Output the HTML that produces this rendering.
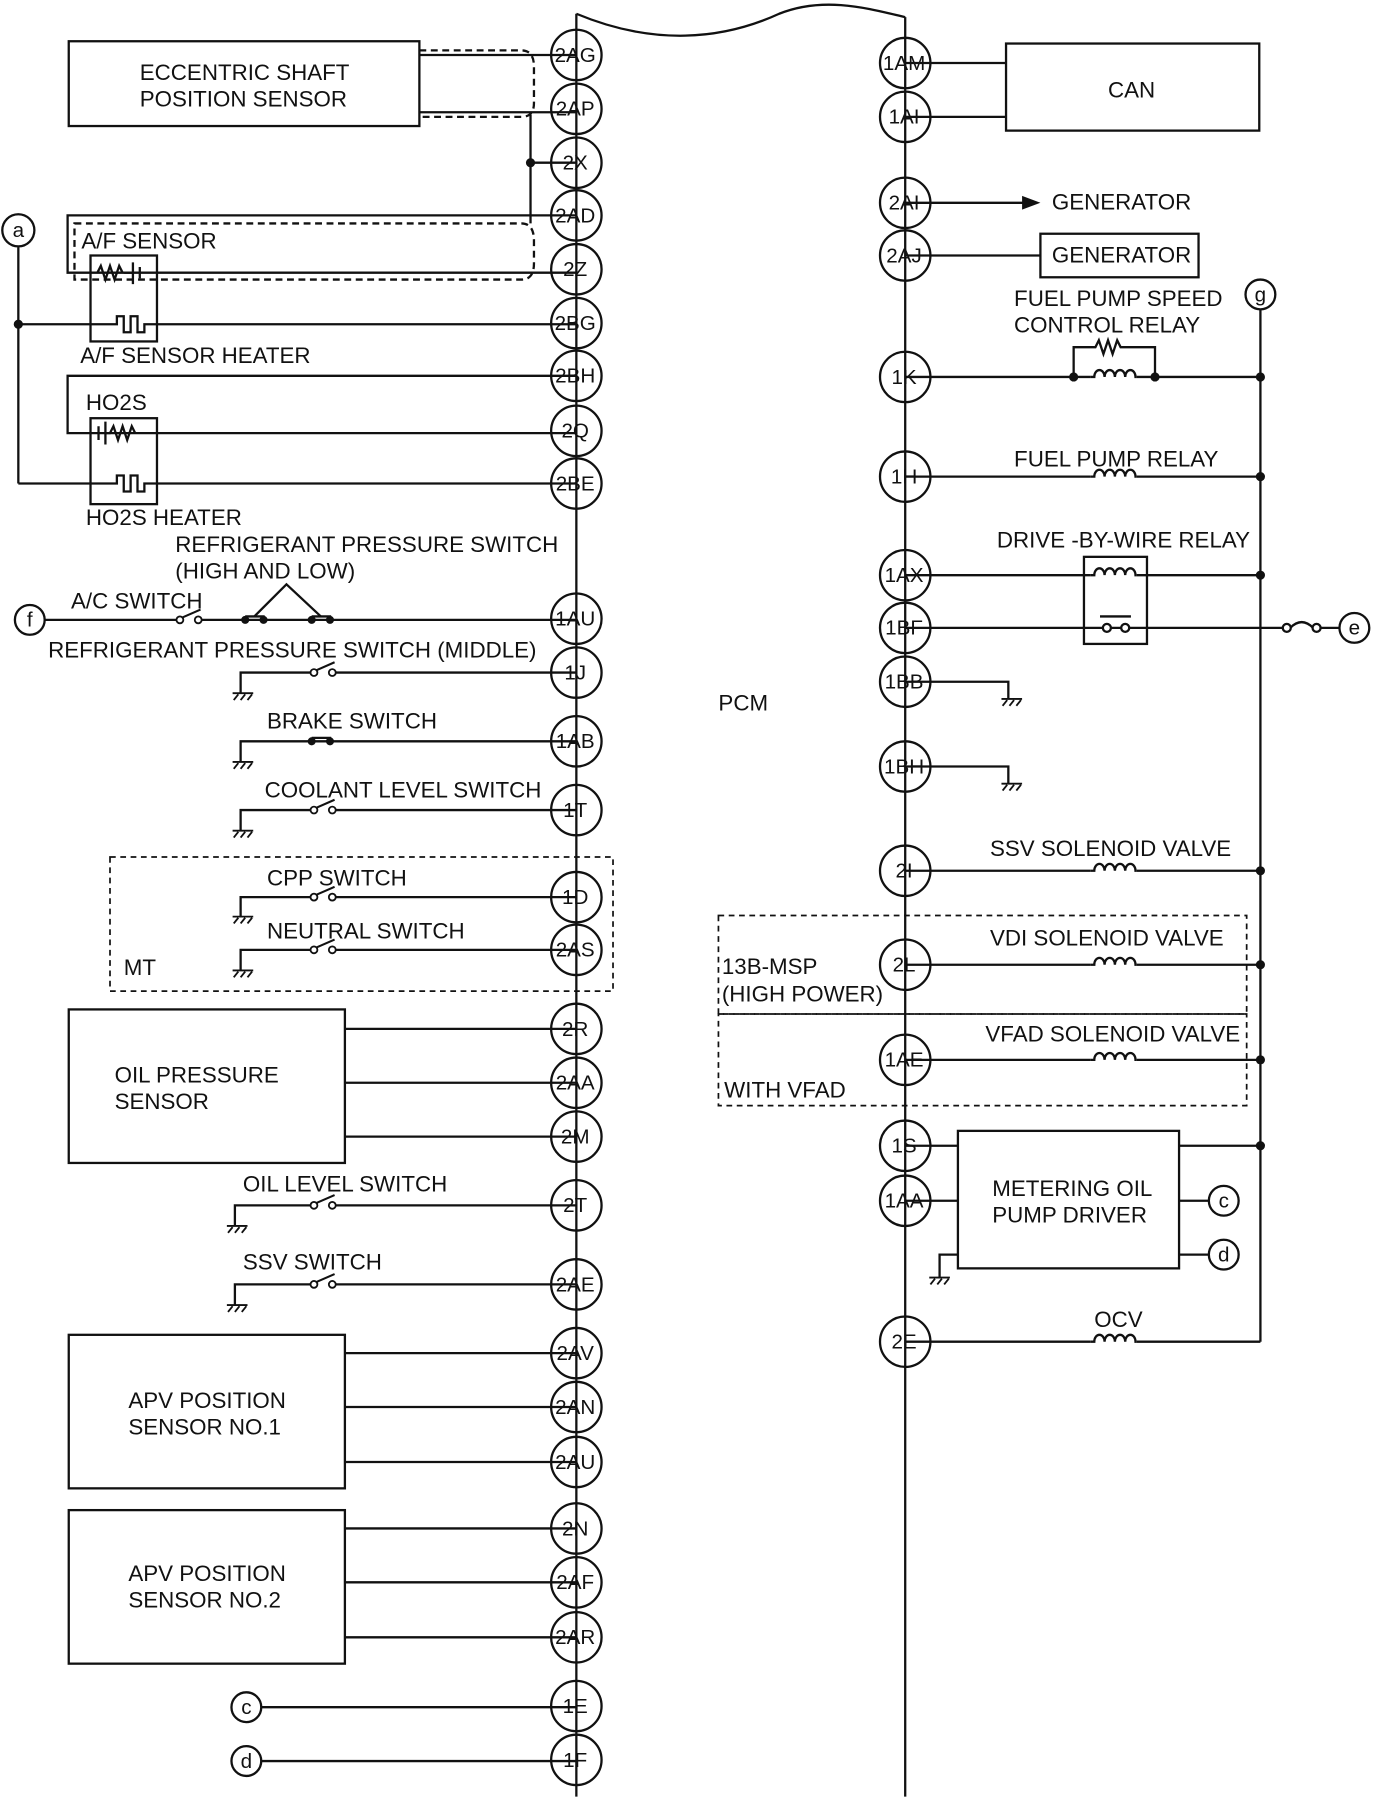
<!DOCTYPE html>
<html><head><meta charset="utf-8"><style>
html,body{margin:0;padding:0;background:#fff}
svg{display:block}
text{font-family:"Liberation Sans",Arial,sans-serif;font-size:19.5px;fill:#111}
.p{font-size:18px;text-anchor:middle}
</style></head><body>
<svg width="1375" height="1800" viewBox="0 0 1200 1571" preserveAspectRatio="none" xmlns="http://www.w3.org/2000/svg">
<defs>
<g id="coil"><rect x="-20" y="-2" width="40" height="4" fill="#fff"/><path d="M-20,0 h3 a4.5,6 0 0 1 9,0 a4.5,6 0 0 1 9,0 a4.5,6 0 0 1 9,0 a4.5,6 0 0 1 9,0 h1" fill="none" stroke="#111" stroke-width="2"/></g>
<g id="sw"><rect x="-9" y="-2" width="18" height="4" fill="#fff"/><circle cx="-8" cy="0" r="3" fill="#fff" stroke="#111" stroke-width="1.6"/><circle cx="8" cy="0" r="3" fill="#fff" stroke="#111" stroke-width="1.6"/><line x1="-6" y1="-2" x2="10" y2="-9" stroke="#111" stroke-width="1.8"/></g>
<g id="csw"><circle cx="-8" cy="0" r="3.5" fill="#111"/><circle cx="8" cy="0" r="3.5" fill="#111"/><line x1="-8" y1="-3" x2="9" y2="-3" stroke="#111" stroke-width="2"/></g>
<g id="gnd" stroke="#111" stroke-width="1.6"><line x1="-9" y1="0" x2="9" y2="0"/><line x1="-8" y1="6" x2="-4" y2="1"/><line x1="-2" y1="6" x2="2" y2="1"/><line x1="4" y1="6" x2="8" y2="1"/></g>
</defs>
<g fill="none" stroke="#111" stroke-width="2">
<path d="M503,12 C570,40 630,35 680,12 C720,-4 760,8 790,15"/>
<line x1="503" y1="12" x2="503" y2="1568"/>
<line x1="790" y1="15" x2="790" y2="1568"/>
<line x1="366" y1="48" x2="503" y2="48"/><line x1="366" y1="98" x2="503" y2="98"/>
<line x1="463" y1="142" x2="503" y2="142"/><line x1="463" y1="100" x2="463" y2="195"/>
<rect x="60" y="36" width="306" height="74"/>
<path d="M366,44 H455 Q466,44 466,58 V90 Q466,102 455,102 H366" stroke-dasharray="6,4"/>
<path d="M503,188 H59 V238 H503"/>
<path d="M65,195 H455 Q466,195 466,210 V230 Q466,244 455,244 H65 Z" stroke-dasharray="6,4"/>
<rect x="79" y="223" width="58" height="75"/>
<path d="M85,238 l3,-6 l4,12 l4,-12 l4,12 l4,-12 l3,6 M108,238 H116 M116,229 V248 M122,233 V243"/>
<path d="M16,283 H102 V276 H108 V290 H114 V276 H120 V290 H126 V283 H503"/>
<line x1="16" y1="216" x2="16" y2="422"/>
<path d="M503,328 H59 V378 H503"/>
<rect x="79" y="365" width="58" height="75"/>
<path d="M86,372 V384 M92,368 V388 M92,378 H96 l3,-6 l4,12 l4,-12 l4,12 l4,-12 l3,6"/>
<path d="M16,422 H102 V415 H108 V429 H114 V415 H120 V429 H126 V422 H503"/>
<line x1="39" y1="541" x2="503" y2="541"/>
<path d="M222,538 L250,510 L280,538"/>
<path d="M503,587 H210 V605"/>
<path d="M503,647 H210 V665"/>
<path d="M503,707 H210 V725"/>
<path d="M503,783 H210 V800"/>
<path d="M503,829 H210 V847"/>
<rect x="96" y="748" width="439" height="117" stroke-dasharray="5,4" stroke-width="1.5"/>
<rect x="60" y="881" width="241" height="134"/>
<line x1="301" y1="898" x2="503" y2="898"/><line x1="301" y1="945" x2="503" y2="945"/><line x1="301" y1="992" x2="503" y2="992"/>
<path d="M503,1052 H205 V1070"/>
<path d="M503,1121 H205 V1139"/>
<rect x="60" y="1165" width="241" height="134"/>
<line x1="301" y1="1181" x2="503" y2="1181"/><line x1="301" y1="1228" x2="503" y2="1228"/><line x1="301" y1="1276" x2="503" y2="1276"/>
<rect x="60" y="1318" width="241" height="134"/>
<line x1="301" y1="1334" x2="503" y2="1334"/><line x1="301" y1="1381" x2="503" y2="1381"/><line x1="301" y1="1429" x2="503" y2="1429"/>
<line x1="228" y1="1490" x2="503" y2="1490"/><line x1="228" y1="1537" x2="503" y2="1537"/>
<rect x="878" y="38" width="221" height="76"/>
<line x1="790" y1="55" x2="878" y2="55"/><line x1="790" y1="102" x2="878" y2="102"/>
<line x1="790" y1="177" x2="895" y2="177"/>
<rect x="908" y="204" width="138" height="38"/>
<line x1="790" y1="223" x2="908" y2="223"/>
<line x1="1100" y1="270" x2="1100" y2="1171"/>
<line x1="790" y1="329" x2="1100" y2="329"/>
<path d="M937,329 V303 H956 l3,-6 l4,12 l4,-12 l4,12 l4,-12 l3,6 H1008 V329"/>
<line x1="790" y1="416" x2="1100" y2="416"/>
<line x1="790" y1="502" x2="1100" y2="502"/>
<rect x="946" y="486" width="55" height="76"/>
<line x1="790" y1="548" x2="1120" y2="548"/>
<line x1="960" y1="538" x2="987" y2="538"/>
<path d="M1126,548 q10,-10 20,0" />
<line x1="1150" y1="548" x2="1169" y2="548"/>
<path d="M790,595 H880 V610"/>
<path d="M790,669 H880 V684"/>
<line x1="790" y1="760" x2="1100" y2="760"/>
<rect x="627" y="799" width="461" height="86" stroke-dasharray="5,4" stroke-width="1.5"/>
<rect x="627" y="885" width="461" height="80" stroke-dasharray="5,4" stroke-width="1.5"/>
<line x1="790" y1="842" x2="1100" y2="842"/>
<line x1="790" y1="925" x2="1100" y2="925"/>
<rect x="836" y="987" width="193" height="120"/>
<line x1="790" y1="1000" x2="836" y2="1000"/><line x1="1029" y1="1000" x2="1100" y2="1000"/>
<line x1="790" y1="1048" x2="836" y2="1048"/>
<line x1="1029" y1="1048" x2="1055" y2="1048"/><line x1="1029" y1="1095" x2="1055" y2="1095"/>
<path d="M836,1095 H820 V1115"/>
<path d="M790,1171 H1100"/>
<circle cx="16" cy="201" r="14"/><circle cx="26" cy="541" r="13"/>
<circle cx="215" cy="1490" r="13"/><circle cx="215" cy="1537" r="13"/>
<circle cx="1100" cy="257" r="13"/><circle cx="1182" cy="548" r="13"/>
<circle cx="1068" cy="1048" r="13"/><circle cx="1068" cy="1095" r="13"/>
<circle cx="1123" cy="548" r="3.5" fill="#fff"/><circle cx="1149" cy="548" r="3.5" fill="#fff"/>
<circle cx="966" cy="548" r="3.5" fill="#fff"/><circle cx="982" cy="548" r="3.5" fill="#fff"/>
<g>
<circle cx="503" cy="48" r="22"/><circle cx="503" cy="95" r="22"/><circle cx="503" cy="142" r="22"/><circle cx="503" cy="188" r="22"/><circle cx="503" cy="235" r="22"/><circle cx="503" cy="282" r="22"/><circle cx="503" cy="328" r="22"/><circle cx="503" cy="376" r="22"/><circle cx="503" cy="422" r="22"/><circle cx="503" cy="540" r="22"/><circle cx="503" cy="587" r="22"/><circle cx="503" cy="647" r="22"/><circle cx="503" cy="707" r="22"/><circle cx="503" cy="783" r="22"/><circle cx="503" cy="829" r="22"/><circle cx="503" cy="898" r="22"/><circle cx="503" cy="945" r="22"/><circle cx="503" cy="992" r="22"/><circle cx="503" cy="1052" r="22"/><circle cx="503" cy="1121" r="22"/><circle cx="503" cy="1181" r="22"/><circle cx="503" cy="1228" r="22"/><circle cx="503" cy="1276" r="22"/><circle cx="503" cy="1334" r="22"/><circle cx="503" cy="1381" r="22"/><circle cx="503" cy="1429" r="22"/><circle cx="503" cy="1489" r="22"/><circle cx="503" cy="1536" r="22"/>
<circle cx="790" cy="55" r="22"/><circle cx="790" cy="102" r="22"/><circle cx="790" cy="177" r="22"/><circle cx="790" cy="223" r="22"/><circle cx="790" cy="329" r="22"/><circle cx="790" cy="416" r="22"/><circle cx="790" cy="502" r="22"/><circle cx="790" cy="548" r="22"/><circle cx="790" cy="595" r="22"/><circle cx="790" cy="669" r="22"/><circle cx="790" cy="760" r="22"/><circle cx="790" cy="842" r="22"/><circle cx="790" cy="925" r="22"/><circle cx="790" cy="1000" r="22"/><circle cx="790" cy="1048" r="22"/><circle cx="790" cy="1171" r="22"/>
</g>
</g>
<path d="M892,171 L908,177 L892,183 Z" fill="#111"/>
<g fill="#111"><circle cx="463" cy="142" r="4"/><circle cx="16" cy="283" r="4"/><circle cx="937" cy="329" r="4"/><circle cx="1008" cy="329" r="4"/><circle cx="1100" cy="329" r="4"/><circle cx="1100" cy="416" r="4"/><circle cx="1100" cy="502" r="4"/><circle cx="1100" cy="760" r="4"/><circle cx="1100" cy="842" r="4"/><circle cx="1100" cy="925" r="4"/><circle cx="1100" cy="1000" r="4"/></g>
<use href="#sw" x="165" y="541"/><use href="#csw" x="222" y="541"/><use href="#csw" x="280" y="541"/>
<use href="#sw" x="282" y="587"/><use href="#csw" x="280" y="647"/><use href="#sw" x="282" y="707"/>
<use href="#sw" x="282" y="783"/><use href="#sw" x="282" y="829"/><use href="#sw" x="282" y="1052"/><use href="#sw" x="282" y="1121"/>
<use href="#gnd" x="212" y="605"/><use href="#gnd" x="212" y="665"/><use href="#gnd" x="212" y="725"/><use href="#gnd" x="212" y="800"/><use href="#gnd" x="212" y="847"/><use href="#gnd" x="207" y="1070"/><use href="#gnd" x="207" y="1139"/>
<use href="#gnd" x="883" y="610"/><use href="#gnd" x="883" y="684"/><use href="#gnd" x="820" y="1115"/>
<use href="#coil" x="972" y="329"/><use href="#coil" x="972" y="416"/><use href="#coil" x="972" y="502"/><use href="#coil" x="972" y="760"/><use href="#coil" x="972" y="842"/><use href="#coil" x="972" y="925"/><use href="#coil" x="972" y="1171"/>
<text x="122" y="70">ECCENTRIC SHAFT</text><text x="122" y="93">POSITION SENSOR</text>
<text x="71" y="217">A/F SENSOR</text><text x="70" y="317">A/F SENSOR HEATER</text>
<text x="75" y="358">HO2S</text><text x="75" y="458">HO2S HEATER</text>
<text x="153" y="482">REFRIGERANT PRESSURE  SWITCH</text><text x="153" y="505">(HIGH AND LOW)</text>
<text x="62" y="531">A/C SWITCH</text><text x="42" y="574">REFRIGERANT PRESSURE  SWITCH (MIDDLE)</text>
<text x="233" y="636">BRAKE SWITCH</text><text x="231" y="696">COOLANT LEVEL SWITCH</text>
<text x="233" y="773">CPP SWITCH</text><text x="233" y="819">NEUTRAL SWITCH</text><text x="108" y="851">MT</text>
<text x="100" y="945">OIL PRESSURE</text><text x="100" y="968">SENSOR</text>
<text x="212" y="1040">OIL LEVEL SWITCH</text><text x="212" y="1108">SSV SWITCH</text>
<text x="112" y="1229">APV POSITION</text><text x="112" y="1252">SENSOR NO.1</text>
<text x="112" y="1380">APV POSITION</text><text x="112" y="1403">SENSOR NO.2</text>
<text x="627" y="620">PCM</text>
<text x="967" y="85">CAN</text><text x="918" y="183">GENERATOR</text><text x="918" y="229">GENERATOR</text>
<text x="885" y="267">FUEL PUMP SPEED</text><text x="885" y="290">CONTROL RELAY</text>
<text x="885" y="407">FUEL PUMP RELAY</text><text x="870" y="478">DRIVE -BY-WIRE RELAY</text>
<text x="864" y="747">SSV SOLENOID VALVE</text><text x="864" y="825">VDI SOLENOID VALVE</text>
<text x="630" y="850">13B-MSP</text><text x="630" y="874">(HIGH POWER)</text>
<text x="860" y="909">VFAD SOLENOID VALVE</text><text x="632" y="958">WITH VFAD</text>
<text x="866" y="1044">METERING OIL</text><text x="866" y="1067">PUMP DRIVER</text>
<text x="955" y="1158">OCV</text>
<g>
<text class="p" x="16" y="207">a</text><text class="p" x="26" y="547">f</text><text class="p" x="215" y="1496">c</text><text class="p" x="215" y="1543">d</text>
<text class="p" x="1100" y="263">g</text><text class="p" x="1182" y="554">e</text><text class="p" x="1068" y="1054">c</text><text class="p" x="1068" y="1101">d</text>
<text class="p" x="502" y="54">2AG</text><text class="p" x="502" y="101">2AP</text><text class="p" x="502" y="148">2X</text><text class="p" x="502" y="194">2AD</text><text class="p" x="502" y="241">2Z</text><text class="p" x="502" y="288">2BG</text><text class="p" x="502" y="334">2BH</text><text class="p" x="502" y="382">2Q</text><text class="p" x="502" y="428">2BE</text><text class="p" x="502" y="546">1AU</text><text class="p" x="502" y="593">1J</text><text class="p" x="502" y="653">1AB</text><text class="p" x="502" y="713">1T</text><text class="p" x="502" y="789">1D</text><text class="p" x="502" y="835">2AS</text><text class="p" x="502" y="904">2R</text><text class="p" x="502" y="951">2AA</text><text class="p" x="502" y="998">2M</text><text class="p" x="502" y="1058">2T</text><text class="p" x="502" y="1127">2AE</text><text class="p" x="502" y="1187">2AV</text><text class="p" x="502" y="1234">2AN</text><text class="p" x="502" y="1282">2AU</text><text class="p" x="502" y="1340">2N</text><text class="p" x="502" y="1387">2AF</text><text class="p" x="502" y="1435">2AR</text><text class="p" x="502" y="1495">1E</text><text class="p" x="502" y="1542">1F</text>
<text class="p" x="789" y="61">1AM</text><text class="p" x="789" y="108">1AI</text><text class="p" x="789" y="183">2AI</text><text class="p" x="789" y="229">2AJ</text><text class="p" x="789" y="335">1K</text><text class="p" x="789" y="422">1H</text><text class="p" x="789" y="508">1AX</text><text class="p" x="789" y="554">1BF</text><text class="p" x="789" y="601">1BB</text><text class="p" x="789" y="675">1BH</text><text class="p" x="789" y="766">2I</text><text class="p" x="789" y="848">2L</text><text class="p" x="789" y="931">1AE</text><text class="p" x="789" y="1006">1S</text><text class="p" x="789" y="1054">1AA</text><text class="p" x="789" y="1177">2E</text>
</g>
</svg>
</body></html>
